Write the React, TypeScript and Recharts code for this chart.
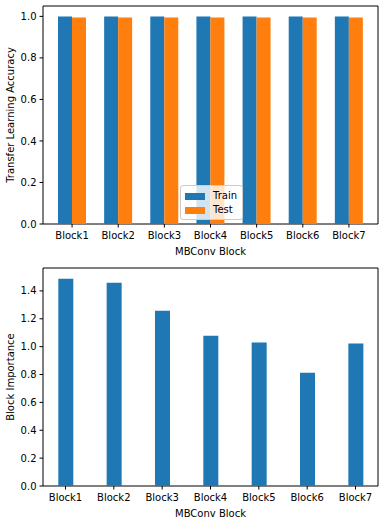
import { Bar, BarChart, Legend, ReferenceArea, XAxis, YAxis } from "recharts";

const blocks = ["Block1", "Block2", "Block3", "Block4", "Block5", "Block6", "Block7"];
const trainAcc = [1.0, 1.0, 1.0, 1.0, 1.0, 1.0, 1.0];
const testAcc = [0.995, 0.995, 0.995, 0.995, 0.995, 0.995, 0.995];
const importance = [1.488, 1.459, 1.258, 1.079, 1.029, 0.813, 1.022];

const accTicks = [0, 0.2, 0.4, 0.6, 0.8, 1.0];
const impTicks = [0, 0.2, 0.4, 0.6, 0.8, 1.0, 1.2, 1.4];

const BLUE = "#1f77b4";
const ORANGE = "#ff7f0e";
const FONT = "DejaVu Sans";

const accData = blocks.map((b, i) => ({ idx: i, name: b, train: trainAcc[i], test: testAcc[i] }));
const impData = blocks.map((b, i) => ({ idx: i, name: b, importance: importance[i] }));

const idxTicks = blocks.map((_, i) => i);
const tickStyle = { fontFamily: FONT, fontSize: 10, fill: "#000" };
const labelStyle = { fontFamily: FONT, fontSize: 10, fill: "#000" };

const topX: [number, number] = [-0.63, 6.63];
const topY: [number, number] = [0, 1.05];
const botX: [number, number] = [-0.465, 6.465];
const botY: [number, number] = [0, 1.5645];

function LegendBox() {
  const items = [
    { label: "Train", color: BLUE },
    { label: "Test", color: ORANGE },
  ];
  return (
    <div
      style={{
        background: "rgba(255,255,255,0.8)",
        border: "1px solid #cccccc",
        borderRadius: 3,
        padding: "3px 5px 2px 4px",
        fontFamily: FONT,
        fontSize: 10,
        lineHeight: "14px",
      }}
    >
      {items.map((it) => (
        <div key={it.label} style={{ display: "flex", alignItems: "center" }}>
          <span style={{ display: "inline-block", width: 20, height: 7, background: it.color, marginRight: 8 }} />
          <span>{it.label}</span>
        </div>
      ))}
    </div>
  );
}

export default function App() {
  return (
    <div style={{ position: "absolute", left: 0, top: 0, width: 383, height: 521, background: "#fff" }}>
      <BarChart width={383} height={260} data={accData} barGap={0} margin={{ top: 6, right: 5, bottom: 0, left: 8 }}>
        <XAxis
          dataKey="idx"
          type="number"
          domain={topX}
          allowDataOverflow
          ticks={idxTicks}
          tickFormatter={(v: number) => blocks[v]}
          tick={tickStyle}
          tickSize={3.5}
          tickMargin={4}
          tickLine={{ stroke: "#000" }}
          axisLine={false}
          height={36}
          interval={0}
          label={{ value: "MBConv Block", position: "insideBottom", offset: 5, style: labelStyle }}
        />
        <YAxis
          type="number"
          domain={topY}
          allowDataOverflow
          ticks={accTicks}
          tickFormatter={(v: number) => v.toFixed(1)}
          tick={tickStyle}
          tickSize={3.5}
          tickMargin={3}
          tickLine={{ stroke: "#000" }}
          axisLine={false}
          width={35}
          label={{ value: "Transfer Learning Accuracy", angle: -90, position: "center", dx: -15, style: { ...labelStyle, textAnchor: "middle" } }}
        />
        <Bar dataKey="train" name="Train" fill={BLUE} barSize={14} isAnimationActive={false} />
        <Bar dataKey="test" name="Test" fill={ORANGE} barSize={14} isAnimationActive={false} />
        <ReferenceArea x1={topX[0]} x2={topX[1]} y1={topY[0]} y2={topY[1]} fill="none" stroke="#000" strokeWidth={1} ifOverflow="visible" />
        <Legend
          layout="horizontal"
          align="center"
          verticalAlign="middle"
          content={() => <LegendBox />}
          wrapperStyle={{ position: "absolute", left: 180, top: 185, width: "auto" }}
        />
      </BarChart>
      <BarChart width={383} height={261} data={impData} margin={{ top: 8, right: 5, bottom: 0, left: 8 }}>
        <XAxis
          dataKey="idx"
          type="number"
          domain={botX}
          allowDataOverflow
          ticks={idxTicks}
          tickFormatter={(v: number) => blocks[v]}
          tick={tickStyle}
          tickSize={3.5}
          tickMargin={4}
          tickLine={{ stroke: "#000" }}
          axisLine={false}
          height={35}
          interval={0}
          label={{ value: "MBConv Block", position: "insideBottom", offset: 4, style: labelStyle }}
        />
        <YAxis
          type="number"
          domain={botY}
          allowDataOverflow
          ticks={impTicks}
          tickFormatter={(v: number) => v.toFixed(1)}
          tick={tickStyle}
          tickSize={3.5}
          tickMargin={3}
          tickLine={{ stroke: "#000" }}
          axisLine={false}
          width={35}
          label={{ value: "Block Importance", angle: -90, position: "center", dx: -15, style: { ...labelStyle, textAnchor: "middle" } }}
        />
        <Bar dataKey="importance" fill={BLUE} barSize={15} isAnimationActive={false} />
        <ReferenceArea x1={botX[0]} x2={botX[1]} y1={botY[0]} y2={botY[1]} fill="none" stroke="#000" strokeWidth={1} ifOverflow="visible" />
      </BarChart>
    </div>
  );
}
